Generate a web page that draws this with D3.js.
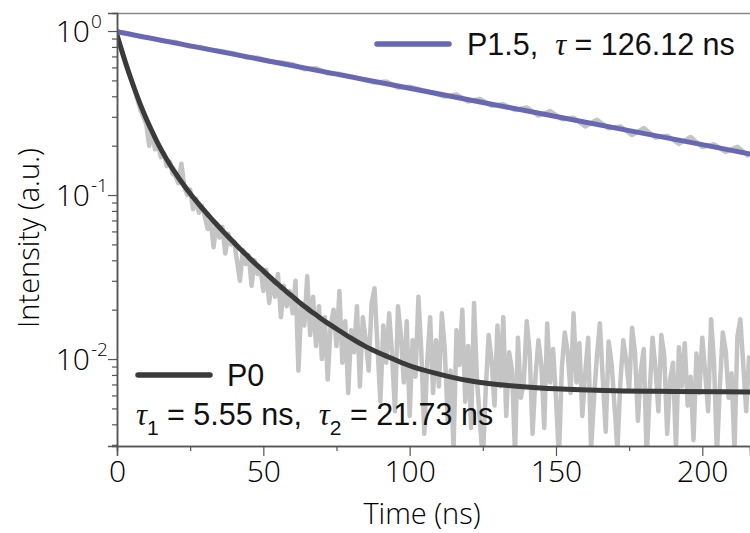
<!DOCTYPE html>
<html><head><meta charset="utf-8">
<script src="https://cdn.jsdelivr.net/npm/d3@7"></script>
<style>
html,body{margin:0;padding:0;background:#fff;}
svg{display:block;}
</style></head>
<body>
<svg id="chart" width="750" height="533"></svg>
<script>
// ---------- data ----------
const xTicks = [0, 50, 100, 150, 200];
const xMinorTicks = [25, 75, 125, 175];
const yTickExps = [0, -1, -2];

const p0Time = [
0,1,2,3,4,5,6,7,8,9,10,11,12,13,14,15,16,17,18,19,20,21,22,23,24,25,26,27,28,29,
30,31,32,33,34,35,36,37,38,39,40,41,42,43,44,45,46,47,48,49,50,51,52,53,54,55,56,57,58,59,
60,61,62,63,64,65,66,67,68,69,70,71,72,73,74,75,76,77,78,79,80,81,82,83,84,85,86,87,88,89,
90,91,92,93,94,95,96,97,98,99,100,101,102,103,104,105,106,107,108,109,110,111,112,113,114,115,116,117,118,119,
120,121,122,123,124,125,126,127,128,129,130,131,132,133,134,135,136,137,138,139,140,141,142,143,144,145,146,147,148,149,
150,151,152,153,154,155,156,157,158,159,160,161,162,163,164,165,166,167,168,169,170,171,172,173,174,175,176,177,178,179,
180,181,182,183,184,185,186,187,188,189,190,191,192,193,194,195,196,197,198,199,200,201,202,203,204,205,206,207,208,209,
210,211,212,213,214,215,216];
const p0Raw = [
0.95,0.82,0.73,0.63,0.55,0.50,0.44,0.38,0.33,0.30,
0.27,0.20,0.24,0.19,0.205,0.17,0.18,0.15,0.16,0.135,
0.13,0.118,0.155,0.112,0.100,0.108,0.082,0.095,0.078,0.086,
0.074,0.062,0.070,0.048,0.067,0.055,0.064,0.044,0.058,0.050,
0.052,0.040,0.030,0.046,0.038,0.043,0.028,0.040,0.033,0.036,
0.026,0.035,0.022,0.031,0.024,0.033,0.018,0.028,0.021,0.026,
0.019,0.030,0.0085,0.022,0.016,0.032,0.014,0.024,0.012,0.021,
0.010,0.018,0.0075,0.016,0.020,0.012,0.026,0.0095,0.017,0.0062,
0.015,0.011,0.021,0.0068,0.018,0.013,0.0085,0.022,0.027,0.012,
0.0055,0.016,0.0095,0.019,0.0105,0.0048,0.021,0.014,0.0072,0.017,
0.0045,0.013,0.0078,0.024,0.011,0.0035,0.0095,0.018,0.0062,0.013,
0.0068,0.019,0.0115,0.0042,0.0085,0.0028,0.015,0.0092,0.020,0.0055,
0.012,0.0038,0.022,0.0075,0.0042,0.0024,0.0065,0.014,0.0098,0.0052,
0.016,0.0068,0.018,0.0045,0.011,0.0085,0.0026,0.0135,0.0058,0.0072,
0.017,0.011,0.0035,0.0078,0.013,0.0092,0.0038,0.0165,0.0072,0.0115,
0.0058,0.0025,0.0088,0.0145,0.011,0.0062,0.019,0.0072,0.0125,0.0045,
0.0082,0.0135,0.0028,0.0058,0.0105,0.0165,0.0075,0.0036,0.0128,0.0094,
0.0052,0.0028,0.0072,0.013,0.0098,0.0065,0.0155,0.011,0.0042,0.0085,
0.0115,0.0025,0.0062,0.0135,0.0088,0.0048,0.014,0.0105,0.0035,0.0075,
0.0095,0.0028,0.0118,0.0068,0.0125,0.0052,0.0078,0.0032,0.0108,0.0062,
0.0135,0.0082,0.0048,0.0175,0.0095,0.0026,0.0068,0.0145,0.0112,0.0058,
0.0082,0.0028,0.0138,0.0175,0.0092,0.0048,0.0105];

const p0FitTime = [0,2,4,6,8,10,12,14,16,18,20,22,24,26,28,30,32,34,36,38,40,42,44,46,48,50,52,54,56,58,60,62,64,66,68,70,75,80,85,90,95,100,110,120,130,140,150,170,190,217];
const p0Fit = [0.946,0.722,0.560,0.443,0.356,0.292,0.244,0.206,0.177,0.154,0.136,0.1205,0.1078,0.0970,0.0878,0.0797,0.0726,0.0663,0.0607,0.0557,0.0512,0.0471,0.0435,0.0401,0.0371,0.0345,0.0319,0.0296,0.0276,0.0257,0.0240,0.0224,0.0210,0.0197,0.0186,0.0175,0.0153,0.0134,0.0119,0.0108,0.0099,0.0091,0.0081,0.0074,0.0070,0.00675,0.00658,0.00641,0.00635,0.0063];

const p15Time = [0,4,8,12,16,20,24,28,32,36,40,44,48,52,56,60,64,68,72,76,80,84,88,92,96,100,104,108,112,116,120,124,128,132,136,140,144,148,152,156,160,164,168,172,176,180,184,188,192,196,200,204,208,212,216];
const p15Raw = [0.985,0.968,0.921,0.905,0.866,0.858,0.811,0.800,0.770,0.752,0.731,0.690,0.688,0.652,0.642,0.628,0.585,0.594,0.551,0.548,0.529,0.505,0.485,0.492,0.452,0.458,0.438,0.420,0.398,0.410,0.372,0.386,0.350,0.358,0.330,0.342,0.305,0.325,0.290,0.296,0.262,0.288,0.255,0.262,0.232,0.256,0.224,0.230,0.205,0.226,0.196,0.204,0.183,0.197,0.172];

const p15FitTime = [0,25,50,75,100,125,150,175,200,217];
const p15Fit = [0.99,0.812,0.666,0.546,0.448,0.367,0.301,0.247,0.203,0.177];

// ---------- layout ----------
(function draw(){
const svg = d3.select("#chart");
const pl = 117, pr = 750, pt = 13, pb = 446;
const x = d3.scaleLinear().domain([0, 216.3]).range([pl, pr]);
const y = d3.scaleLog().domain([0.00295, 1.288]).range([pb, pt]);

const tickFont = "'Open Sans', 'Noto Sans', sans-serif";
const tickWeight = 300;
const axisColor = "#555";
const textColor = "#000";

svg.append("defs").append("clipPath").attr("id","plotClip")
  .append("rect").attr("x", pl).attr("y", pt).attr("width", pr-pl).attr("height", pb-pt);

const plot = svg.append("g").attr("clip-path","url(#plotClip)");
const line = d3.line().x(d => x(d[0])).y(d => y(d[1]));

plot.append("path").datum(d3.zip(p0Time, p0Raw)).attr("d", line)
  .attr("fill","none").attr("stroke","#c4c4c4").attr("stroke-width",4.5).attr("stroke-linejoin","round");
plot.append("path").datum(d3.zip(p15Time, p15Raw)).attr("d", line)
  .attr("fill","none").attr("stroke","#c4c4c4").attr("stroke-width",4.5).attr("stroke-linejoin","round");
const smooth = d3.line().x(d => x(d[0])).y(d => y(d[1])).curve(d3.curveMonotoneX);
plot.append("path").datum(d3.zip(p0FitTime, p0Fit)).attr("d", smooth)
  .attr("fill","none").attr("stroke","#3a3a3a").attr("stroke-width",5).attr("stroke-linecap","round");
plot.append("path").datum(d3.zip(p15FitTime, p15Fit)).attr("d", line)
  .attr("fill","none").attr("stroke","#6767b3").attr("stroke-width",5).attr("stroke-linecap","round");

// top frame
svg.append("line").attr("x1", pl).attr("x2", pr).attr("y1", pt+0.5).attr("y2", pt+0.5)
  .attr("stroke", "#888").attr("stroke-width", 1.5);

// x axis
const gx = svg.append("g").attr("transform", `translate(0,${pb})`)
  .call(d3.axisBottom(x).tickValues(xTicks).tickSize(10).tickPadding(5).tickFormat(d3.format("d")));
const gxm = svg.append("g").attr("transform", `translate(0,${pb})`)
  .call(d3.axisBottom(x).tickValues(xMinorTicks).tickSize(5).tickFormat(""));
[gx, gxm].forEach(g => {
  g.select(".domain").attr("stroke", axisColor).attr("stroke-width",1.5);
  g.selectAll(".tick line").attr("stroke", axisColor).attr("stroke-width",1.2);
});
gx.selectAll(".tick text").attr("font-family", tickFont).attr("font-weight", tickWeight).attr("font-size", 30).attr("fill",textColor);

// y axis
const yMajor = yTickExps.map(e => Math.pow(10, e));
const yMinor = [];
[-3,-2,-1].forEach(e => { for (let k=2;k<=9;k++){ const v = k*Math.pow(10,e); if (v>=0.00295 && v<=1.288) yMinor.push(v);} });
const gy = svg.append("g").attr("transform", `translate(${pl},0)`)
  .call(d3.axisLeft(y).tickValues(yMajor).tickSize(9).tickFormat(""));
const gym = svg.append("g").attr("transform", `translate(${pl},0)`)
  .call(d3.axisLeft(y).tickValues(yMinor).tickSize(5).tickFormat(""));
[gy, gym].forEach(g => {
  g.select(".domain").attr("stroke", axisColor).attr("stroke-width",1.5);
  g.selectAll(".tick line").attr("stroke", axisColor).attr("stroke-width",1.2);
});
yTickExps.forEach(e => {
  svg.append("text").attr("x", 90).attr("y", y(Math.pow(10,e)) + 11)
    .attr("text-anchor","end").attr("font-family", tickFont).attr("font-weight", tickWeight).attr("font-size", 30).attr("fill",textColor)
    .text("10");
  svg.append("text").attr("x", 91).attr("y", y(Math.pow(10,e)) - 3)
    .attr("text-anchor","start").attr("font-family", tickFont).attr("font-weight", tickWeight).attr("font-size", 19).attr("fill",textColor)
    .text(String(e));
});

// axis titles
svg.append("text").attr("x", 422).attr("y", 524).attr("text-anchor","middle")
  .attr("font-family", tickFont).attr("font-weight", tickWeight).attr("font-size", 29).attr("fill",textColor).text("Time (ns)");
svg.append("text").attr("transform","translate(39,238) rotate(-90)").attr("text-anchor","middle")
  .attr("font-family", tickFont).attr("font-weight", tickWeight).attr("font-size", 29).attr("fill",textColor).text("Intensity (a.u.)");

// legends
const legFont = "'Liberation Sans', Arial, sans-serif";
const serif = "'Liberation Serif', 'Times New Roman', serif";
svg.append("line").attr("x1",377).attr("x2",449).attr("y1",44).attr("y2",44)
  .attr("stroke","#6767b3").attr("stroke-width",5.5).attr("stroke-linecap","round");
const l1 = svg.append("text").attr("x",467).attr("y",55).attr("font-family",legFont).attr("font-size",30.5).attr("fill","#111").style("white-space","pre");
l1.append("tspan").text("P1.5,  ");
l1.append("tspan").attr("font-family",serif).attr("font-style","italic").text("τ");
l1.append("tspan").text(" = 126.12 ns");

svg.append("line").attr("x1",138).attr("x2",210).attr("y1",375).attr("y2",375)
  .attr("stroke","#3a3a3a").attr("stroke-width",5.5).attr("stroke-linecap","round");
svg.append("text").attr("x",227).attr("y",386).attr("font-family",legFont).attr("font-size",30.5).attr("fill","#111").text("P0");
const l2 = svg.append("text").attr("x",136).attr("y",425).attr("font-family",legFont).attr("font-size",30.5).attr("fill","#111").style("white-space","pre");
l2.append("tspan").attr("font-family",serif).attr("font-style","italic").text("τ");
l2.append("tspan").attr("font-size",21).attr("dy",10).text("1");
l2.append("tspan").attr("dy",-10).text(" = 5.55 ns,  ");
l2.append("tspan").attr("font-family",serif).attr("font-style","italic").text("τ");
l2.append("tspan").attr("font-size",21).attr("dy",10).text("2");
l2.append("tspan").attr("dy",-10).text(" = 21.73 ns");
})();
</script>
</body></html>
